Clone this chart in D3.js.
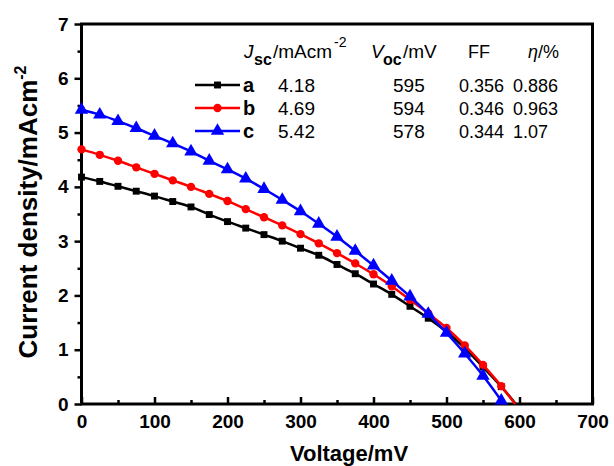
<!DOCTYPE html>
<html>
<head>
<meta charset="utf-8">
<script src="https://cdn.jsdelivr.net/npm/d3@7/dist/d3.min.js"></script>
<style>
  html, body { margin: 0; padding: 0; background: #fff; }
  svg { display: block; font-family: "Liberation Sans", Arial, sans-serif; }
</style>
</head>
<body>
<svg id="chart" width="614" height="466"></svg>
<script>
// J–V curves of three cells (a, b, c)
const voltageA = [0,25,50,75,100,125,150,175,200,225,250,275,300,325,350,375,400,425,450,475,500,525,550,575,595];
const currentA = [4.18,4.10,4.01,3.92,3.83,3.73,3.63,3.49,3.36,3.24,3.12,3.00,2.87,2.74,2.57,2.40,2.21,2.02,1.80,1.58,1.33,1.03,0.68,0.32,0];

const voltageB = [0,25,50,75,100,125,150,175,200,225,250,275,300,325,350,375,400,425,450,475,500,525,550,575,594];
const currentB = [4.69,4.59,4.48,4.36,4.24,4.12,4.00,3.87,3.74,3.59,3.44,3.29,3.13,2.96,2.78,2.59,2.39,2.17,1.92,1.67,1.40,1.08,0.72,0.33,0];

const voltageC = [0,25,50,75,100,125,150,175,200,225,250,275,300,325,350,375,400,425,450,475,500,525,550,575,578];
const currentC = [5.42,5.33,5.21,5.08,4.94,4.80,4.65,4.48,4.32,4.15,3.96,3.76,3.55,3.32,3.08,2.82,2.55,2.27,1.98,1.66,1.31,0.93,0.52,0.06,0];

// Legend table: name, Jsc, Voc, FF, efficiency
const seriesNames = ["a", "b", "c"];
const jscLabels = ["4.18", "4.69", "5.42"];
const vocLabels = ["595", "594", "578"];
const ffLabels = ["0.356", "0.346", "0.344"];
const etaLabels = ["0.886", "0.963", "1.07"];
const seriesColors = ["#000000", "#ff0000", "#0000ff"];
const markerShapes = [d3.symbolSquare, d3.symbolCircle, d3.symbolTriangle];
const markerSizes = [48, 55, 78];

const xMajor = [0,100,200,300,400,500,600,700];
const xMinor = [50,150,250,350,450,550,650];
const yMajor = [0,1,2,3,4,5,6,7];
const yMinor = [0.5,1.5,2.5,3.5,4.5,5.5,6.5];

const svg = d3.select("#chart");
const x = d3.scaleLinear().domain([0, 700]).range([81.5, 592.5]);
const y = d3.scaleLinear().domain([0, 7]).range([404, 24]);

const series = [
  {v: voltageA, j: currentA},
  {v: voltageB, j: currentB},
  {v: voltageC, j: currentC}
].map((s, i) => ({
  name: seriesNames[i],
  color: seriesColors[i],
  shape: markerShapes[i],
  size: markerSizes[i],
  points: s.v.map((v, k) => ({v, j: s.j[k]}))
}));

// Axes: x ticks point into the plot, y ticks point outward
const xAxis = svg.append("g").attr("transform", `translate(0,${y(0)})`)
  .call(d3.axisBottom(x).tickValues(xMajor).tickSize(-7).tickPadding(10.5).tickFormat(d3.format("d")));
svg.append("g").attr("transform", `translate(0,${y(0)})`)
  .call(d3.axisBottom(x).tickValues(xMinor).tickSize(-4).tickFormat(""));
const yAxis = svg.append("g").attr("transform", `translate(${x(0)},0)`)
  .call(d3.axisLeft(y).tickValues(yMajor).tickSize(7).tickPadding(6).tickFormat(d3.format("d")));
svg.append("g").attr("transform", `translate(${x(0)},0)`)
  .call(d3.axisLeft(y).tickValues(yMinor).tickSize(4).tickFormat(""));

svg.selectAll(".domain").remove();
svg.selectAll(".tick line").attr("stroke", "#000").attr("stroke-width", 2.5);
xAxis.selectAll("text").attr("font-size", 19).attr("font-weight", "bold").attr("fill", "#000")
  .attr("font-family", "Liberation Sans, Arial, sans-serif");
yAxis.selectAll("text").attr("font-size", 19).attr("font-weight", "bold").attr("fill", "#000")
  .attr("font-family", "Liberation Sans, Arial, sans-serif");

// Plot frame
svg.append("rect")
  .attr("x", x(0)).attr("y", y(7))
  .attr("width", x(700) - x(0)).attr("height", y(0) - y(7))
  .attr("fill", "none").attr("stroke", "#000").attr("stroke-width", 3);

// Curves and markers
const line = d3.line().x(d => x(d.v)).y(d => y(d.j)).curve(d3.curveMonotoneX);
const plot = svg.append("g");
series.forEach(s => {
  plot.append("path").datum(s.points)
    .attr("d", line).attr("fill", "none")
    .attr("stroke", s.color).attr("stroke-width", 2.5);
  plot.selectAll(null).data(s.points.slice(0, -1)).enter().append("path")
    .attr("d", d3.symbol().type(s.shape).size(s.size))
    .attr("transform", d => `translate(${x(d.v)},${y(d.j)})`)
    .attr("fill", s.color);
});

// Legend header
const legend = svg.append("g").attr("fill", "#000");
const hdr = legend.append("text").attr("y", 58).attr("font-size", 19);
hdr.append("tspan").attr("x", 244).attr("font-style", "italic").text("J");
hdr.append("tspan").attr("x", 254).attr("dy", 7).attr("font-weight", "bold").attr("font-size", 16).text("sc");
hdr.append("tspan").attr("x", 273).attr("dy", -7).text("/mAcm");
hdr.append("tspan").attr("x", 334).attr("dy", -11).attr("font-size", 14).text("-2");

const hdr2 = legend.append("text").attr("y", 58).attr("font-size", 19);
hdr2.append("tspan").attr("x", 371).attr("font-style", "italic").text("V");
hdr2.append("tspan").attr("x", 383).attr("dy", 7).attr("font-weight", "bold").attr("font-size", 16).text("oc");
hdr2.append("tspan").attr("x", 403).attr("dy", -7).text("/mV");

legend.append("text").attr("x", 468).attr("y", 58).attr("font-size", 18).text("FF");
const hdr3 = legend.append("text").attr("x", 528).attr("y", 58).attr("font-size", 18);
hdr3.append("tspan").attr("font-style", "italic").text("η");
hdr3.append("tspan").text("/%");

const rowY = [85, 108, 131];
series.forEach((s, i) => {
  const cy = rowY[i];
  legend.append("line").attr("x1", 195).attr("x2", 240).attr("y1", cy).attr("y2", cy)
    .attr("stroke", s.color).attr("stroke-width", 2.5);
  legend.append("path").attr("d", d3.symbol().type(s.shape).size(s.size))
    .attr("transform", `translate(217.5,${cy})`).attr("fill", s.color);
  legend.append("text").attr("x", 243).attr("y", cy + 6.5).attr("font-size", 20).attr("font-weight", "bold").text(s.name);
  legend.append("text").attr("x", 278).attr("y", cy + 6.5).attr("font-size", 19).text(jscLabels[i]);
  legend.append("text").attr("x", 393).attr("y", cy + 6.5).attr("font-size", 19).text(vocLabels[i]);
  legend.append("text").attr("x", 459).attr("y", cy + 6.5).attr("font-size", 18).text(ffLabels[i]);
  legend.append("text").attr("x", 513).attr("y", cy + 6.5).attr("font-size", 18).text(etaLabels[i]);
});

// Axis titles
svg.append("text").attr("x", 349).attr("y", 461).attr("text-anchor", "middle")
  .attr("font-size", 22).attr("font-weight", "bold").text("Voltage/mV");

const yt = svg.append("text").attr("transform", "translate(37,212) rotate(-90)")
  .attr("text-anchor", "middle").attr("font-size", 26).attr("font-weight", "bold");
yt.append("tspan").text("Current density/mAcm");
yt.append("tspan").attr("dy", -11).attr("font-size", 16).text("-2");
</script>
</body>
</html>
